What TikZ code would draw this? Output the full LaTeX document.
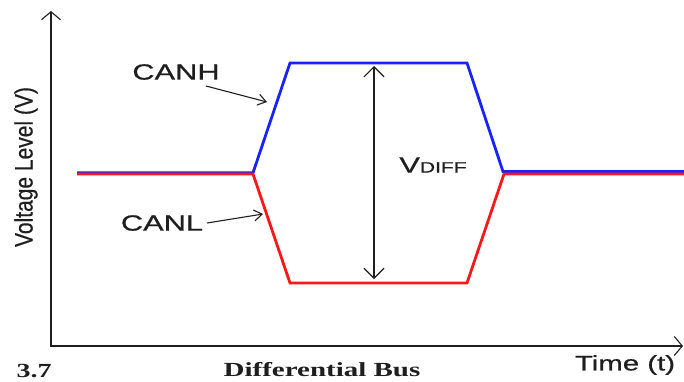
\documentclass[tikz,border=0pt]{standalone}
\usepackage{fontspec}
\setmainfont{Liberation Serif}
\setsansfont{Liberation Sans}
\newfontfamily\heavysans{Liberation Sans}[FakeBold=0.6]
\usetikzlibrary{arrows.meta}
\definecolor{canhblue}{RGB}{25,35,245}
\definecolor{canlred}{RGB}{245,25,25}
\definecolor{ink}{RGB}{30,30,30}
% horizontally widened lettering
\newcommand\hwide[1]{\scalebox{1.4}[1]{#1}}
\newcommand\vwide[1]{\scalebox{1}[1.2]{#1}}
\begin{document}
\begin{tikzpicture}[x=1pt,y=-1pt,
  axisline/.style={draw=ink, line width=1.3pt,
    -{Straight Barb[length=8pt,width=19pt,line width=1.1pt]}},
  pointer/.style={draw=ink, line width=1.1pt,
    -{Straight Barb[length=8pt,width=11pt,line width=1.1pt]}},
  span/.style={draw=ink, line width=1.1pt,
    {Straight Barb[length=10pt,width=20pt,line width=1.1pt]}-{Straight Barb[length=10pt,width=20pt,line width=1.1pt]}},
  sig/.style={line width=2.8pt, line join=miter},
  lbl/.style={inner sep=0pt, text=ink, font=\heavysans\fontsize{22}{24}\selectfont},
  serifcap/.style={inner sep=0pt, text=ink, font=\bfseries\fontsize{20}{22}\selectfont}]
\useasboundingbox (0,0) rectangle (684,381);

% axes
\coordinate (origin) at (51,346);
\coordinate (ytop) at (51,11);
\coordinate (xend) at (683,346);
\draw[axisline] (origin) -- (ytop);
\draw[axisline] ([xshift=-0.65pt]origin) -- (xend);

% bus signals: recessive level shared, dominant level split
\draw[sig, canhblue] (77,172.8) -- (253,172.8) -- (290,63) -- (467,63) -- (503,171.5) -- (684,171.5);
\draw[sig, canlred] (77,174) -- (253,174) -- (290,283) -- (467,283) -- (504,174) -- (684,174);

% labels
\node[lbl] (canh) at (176,72) {\hwide{CANH}};
\node[lbl] (canl) at (162,223) {\hwide{CANL}};
\node[lbl] (vdiff) at (433,165) {\hwide{V\fontsize{15}{17}\selectfont DIFF}};
\node[lbl, rotate=90, font=\heavysans\fontsize{21}{23}\selectfont] (vaxis) at (26,167) {\vwide{Voltage Level (V)}};
\node[lbl, font=\heavysans\fontsize{21}{23}\selectfont] (taxis) at (625,365) {\hwide{Time (t)}};
\node[serifcap] (title) at (322,370) {\scalebox{1.45}[1]{Differential Bus}};
\node[serifcap] (fignum) at (34,371.5) {\hwide{3.7}};

% pointers and differential span
\coordinate (canhtail) at (206,86);
\coordinate (canhtip) at (267,102);
\coordinate (canltail) at (207,223);
\coordinate (canltip) at (263,214);
\coordinate (vtop) at (374,66);
\coordinate (vbot) at (374,279);
\draw[pointer] (canhtail) -- (canhtip);
\draw[pointer] (canltail) -- (canltip);
\draw[span] (vtop) -- (vbot);
\end{tikzpicture}
\end{document}
